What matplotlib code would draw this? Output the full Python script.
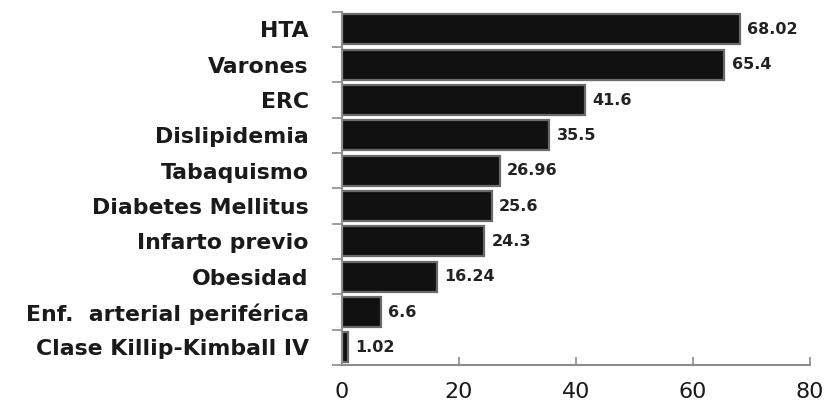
import numpy as np
import matplotlib
matplotlib.use('Agg')
import matplotlib.pyplot as plt

categories = ['HTA', 'Varones', 'ERC', 'Dislipidemia', 'Tabaquismo',
              'Diabetes Mellitus', 'Infarto previo', 'Obesidad',
              'Enf.  arterial periférica', 'Clase Killip-Kimball IV']
values = [68.02, 65.4, 41.6, 35.5, 26.96, 25.6, 24.3, 16.24, 6.6, 1.02]
value_labels = ['68.02', '65.4', '41.6', '35.5', '26.96', '25.6', '24.3',
                '16.24', '6.6', '1.02']
xticks = [0, 20, 40, 60, 80]

plt.rcParams['font.family'] = ['DejaVu Sans']

fig = plt.figure(figsize=(8.27, 4.07), dpi=100)
ax = fig.add_axes([0.4135, 0.103, 0.5655, 0.868])

y = np.arange(len(categories))
ax.barh(y, values, height=0.85, color='#111111', edgecolor='#6a6a6a', linewidth=1.6)

for yi, v, lab in zip(y, values, value_labels):
    ax.text(v + 1.3, yi, lab, va='center', ha='left', fontsize=11.5,
            fontweight='bold', color='#222222')

ax.set_xlim(0, 80)
ax.set_ylim(len(categories) - 0.5, -0.5)

# category labels at centers, ticks at the boundaries
ax.set_yticks(np.arange(-0.5, len(categories)), labels=[''] * (len(categories) + 1))
ax.set_yticks(y, labels=categories, minor=True)
ax.tick_params(axis='y', which='major', length=7, color='#8c8c8c', width=1.2, direction='out')
ax.tick_params(axis='y', which='minor', length=0, labelsize=15.8, pad=24)
for t in ax.get_yticklabels(minor=True):
    t.set_fontweight('bold')
    t.set_color('#1a1a1a')

ax.set_xticks(xticks)
ax.tick_params(axis='x', length=6, color='#8c8c8c', width=1.2, direction='in',
               labelsize=16, pad=12, labelcolor='#1a1a1a')

for s in ['top', 'right']:
    ax.spines[s].set_visible(False)
for s in ['left', 'bottom']:
    ax.spines[s].set_color('#8c8c8c')
    ax.spines[s].set_linewidth(1.5)

fig.savefig('out.png', dpi=100)
